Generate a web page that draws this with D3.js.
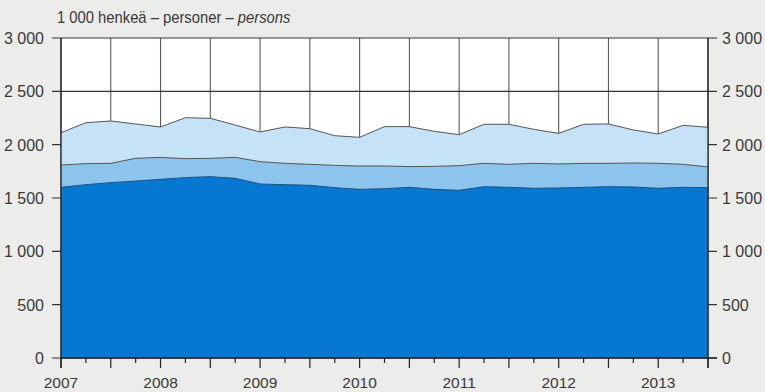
<!DOCTYPE html>
<html><head><meta charset="utf-8">
<script src="https://cdn.jsdelivr.net/npm/d3@7"></script>
<style>
html,body{margin:0;padding:0;background:#ececeb;}
svg{display:block;}
text{font-family:"Liberation Sans Narrow","Arial Narrow","Liberation Sans",sans-serif;fill:#3a3a3a;}
</style></head>
<body>
<svg id="chart" width="765" height="392"></svg>
<script>
// Quarterly points from 2007 Q1 onwards
const startYear = 2007;
const yearLabels = ["2007","2008","2009","2010","2011","2012","2013"];
const yTicks = [0, 500, 1000, 1500, 2000, 2500, 3000];
// Bottom series (dark blue)
const seriesA = [1600,1625,1644,1659,1675,1691,1700,1684,1631,1625,1619,1597,1581,1587,1600,1581,1572,1606,1600,1591,1594,1600,1606,1603,1591,1600,1597];
// Cumulative second boundary (medium blue)
const seriesB = [1809,1822,1825,1872,1881,1869,1872,1881,1841,1825,1816,1806,1800,1800,1794,1797,1803,1825,1816,1825,1819,1825,1825,1828,1825,1816,1791];
// Cumulative total (light blue)
const seriesTotal = [2112,2206,2222,2194,2166,2253,2247,2184,2119,2166,2150,2084,2069,2169,2169,2125,2094,2191,2191,2144,2106,2191,2194,2138,2100,2181,2163];

const svg = d3.select("#chart");
const L = 61, R = 708, T = 38, B = 358;
const x = d3.scaleLinear().domain([2007, 2013.5]).range([L, R]);
const y = d3.scaleLinear().domain([0, 3000]).range([B, T]);
const t = i => startYear + i * 0.25;

// plot background
svg.append("rect").attr("x", L).attr("y", T).attr("width", R - L).attr("height", B - T).attr("fill", "#ffffff");

// vertical half-year gridlines
const halfYears = d3.range(2007, 2013.51, 0.5);
svg.append("g").selectAll("line").data(halfYears).join("line")
  .attr("x1", d => x(d)).attr("x2", d => x(d)).attr("y1", T).attr("y2", B)
  .attr("stroke", "#5a5a5a").attr("stroke-width", 1.1);

// horizontal gridlines
svg.append("g").selectAll("line").data(yTicks).join("line")
  .attr("x1", L - 9).attr("x2", R + 9).attr("y1", d => y(d)).attr("y2", d => y(d))
  .attr("stroke", "#333").attr("stroke-width", 1.2);

const idx = d3.range(seriesA.length);
const areaTop = d3.area().x(i => x(t(i))).y0(i => y(seriesB[i])).y1(i => y(seriesTotal[i]));
const areaMid = d3.area().x(i => x(t(i))).y0(i => y(seriesA[i])).y1(i => y(seriesB[i]));
const areaBot = d3.area().x(i => x(t(i))).y0(y(0)).y1(i => y(seriesA[i]));

svg.append("path").datum(idx).attr("d", areaTop).attr("fill", "#c6e2f7");
svg.append("path").datum(idx).attr("d", areaMid).attr("fill", "#8cc4ee");
svg.append("path").datum(idx).attr("d", areaBot).attr("fill", "#0678d2");

const lineOf = s => d3.line().x(i => x(t(i))).y(i => y(s[i]));
[seriesTotal, seriesB, seriesA].forEach((s, k) => {
  svg.append("path").datum(idx).attr("d", lineOf(s)).attr("fill", "none")
    .attr("stroke", k === 2 ? "#1a4f80" : "#555").attr("stroke-width", 1);
});

// axis frame lines
svg.append("line").attr("x1", L).attr("x2", L).attr("y1", T).attr("y2", B + 10).attr("stroke", "#222").attr("stroke-width", 1.3);
svg.append("line").attr("x1", R).attr("x2", R).attr("y1", T).attr("y2", B + 10).attr("stroke", "#222").attr("stroke-width", 1.3);
svg.append("line").attr("x1", L).attr("x2", R + 9).attr("y1", B).attr("y2", B).attr("stroke", "#222").attr("stroke-width", 1.3);

// x ticks
const quarters = d3.range(0, 27);
svg.append("g").selectAll("line").data(quarters).join("line")
  .attr("x1", i => x(t(i))).attr("x2", i => x(t(i)))
  .attr("y1", B).attr("y2", i => (i % 2 === 0 ? B + 10 : B + 5))
  .attr("stroke", "#222").attr("stroke-width", 1.2);

// y labels
const fmt = d => d3.format(",")(d).replace(/,/g, " ");
svg.append("g").selectAll("text").data(yTicks).join("text")
  .attr("x", 44).attr("y", d => y(d) + 6).attr("text-anchor", "end")
  .attr("font-size", 16).text(fmt);
svg.append("g").selectAll("text").data(yTicks).join("text")
  .attr("x", 722).attr("y", d => y(d) + 6).attr("text-anchor", "start")
  .attr("font-size", 16).text(fmt);

// x labels
svg.append("g").selectAll("text").data(yearLabels).join("text")
  .attr("x", d => x(+d)).attr("y", 388).attr("text-anchor", "middle")
  .attr("font-size", 15.5).text(d => d);

// unit title (condensed look via horizontal scale)
const title = svg.append("g").attr("transform", "translate(57,23) scale(0.87,1)")
  .append("text").attr("x", 0).attr("y", 0).attr("font-size", 17);
title.append("tspan").text("1 000 henkeä – personer – ");
title.append("tspan").attr("font-style", "italic").text("persons");
</script>
</body></html>
